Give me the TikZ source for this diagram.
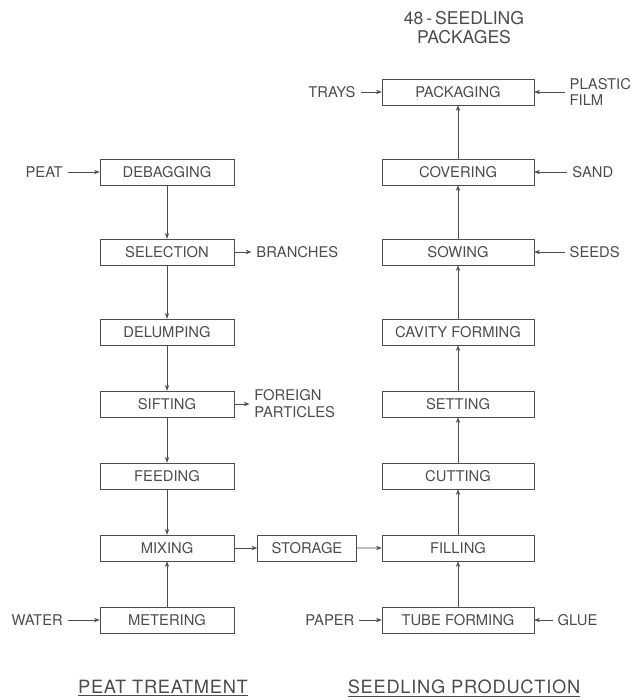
\documentclass[tikz,border=0pt]{standalone}
\usepackage{fontspec}
\setmainfont{TeX Gyre Heros}
\usepackage{tikz}
\usetikzlibrary{arrows.meta, positioning}
\tikzset{
    process/.style={rectangle, minimum width=3.35cm, minimum height=0.65cm, text centered, draw=black!70},
    processwide/.style={process, minimum width=3.8cm},
    processsmall/.style={process, minimum width=2.475cm},
    title/.style={align=center, font=\fontsize{13}{14}\selectfont\addfontfeature{LetterSpace=4}},
    arrow/.style={draw=black!70, -{Stealth[length=4pt,width=3pt]}}
}

\begin{document}
\begin{tikzpicture}[node distance=1.8cm, font=\fontsize{10.5}{12}\selectfont, text=black!70]
    \useasboundingbox (0,0) rectangle (15.825,-17.5);
    % peat treatment
    \node (debag) [process] at (4.175,-4.3) {DEBAGGING};
    \node (select) [process, below of=debag, yshift=-0.2cm] {SELECTION};
    \node (delump) [process, below of=select, yshift=-0.2cm] {DELUMPING};
    \node (sift) [process, below of=delump] {SIFTING};
    \node (feed) [process, below of=sift] {FEEDING};
    \node (mix) [process, below of=feed] {MIXING};
    \node (meter) [process, below of=mix] {METERING};
    \node (store) [processsmall, right of=mix, xshift=1.7cm] {STORAGE};
    % seedling production
    \node (tube) [processwide] at (11.45,-15.5) {TUBE FORMING};
    \node (fill) [processwide, above of=tube] {FILLING};
    \node (cut) [processwide, above of=fill] {CUTTING};
    \node (set) [processwide, above of=cut] {SETTING};
    \node (cavity) [processwide, above of=set] {CAVITY FORMING};
    \node (sow) [processwide, above of=cavity, yshift=0.2cm] {SOWING};
    \node (cover) [processwide, above of=sow, yshift=0.2cm] {COVERING};
    \node (pack) [processwide, above of=cover, yshift=0.2cm] {PACKAGING};

    % inputs and outputs
    \node (peat) [left=0.8cm of debag] {PEAT};
    \node (branch) [right=0.43cm of select] {BRANCHES};
    \node (foreign) [right=0.38cm of sift, align=left] {FOREIGN\\PARTICLES};
    \node (water) [left=0.8cm of meter] {WATER};
    \node (trays) [left=0.53cm of pack] {TRAYS};
    \node (film) [right=0.76cm of pack, align=left] {PLASTIC\\FILM};
    \node (sand) [right=0.83cm of cover] {SAND};
    \node (seeds) [right=0.76cm of sow] {SEEDS};
    \node (paper) [left=0.56cm of tube] {PAPER};
    \node (glue) [right=0.46cm of tube] {GLUE};

    % titles
    \node (packages) [align=center, above=0.75cm of pack, xshift=0.15cm, font=\fontsize{12.5}{13.5}\selectfont] {48\,-\,SEEDLING\\PACKAGES};
    \node (peattitle) [title, below=1.05cm of meter, xshift=-0.1cm] {\underline{PEAT TREATMENT}};
    \node (seedtitle) [title, below=1.05cm of tube, xshift=0.15cm] {\underline{SEEDLING PRODUCTION}};

    \draw [arrow] (debag) -- (select);
    \draw [arrow] (select) -- (delump);
    \draw [arrow] (delump) -- (sift);
    \draw [arrow] (sift) -- (feed);
    \draw [arrow] (feed) -- (mix);
    \draw [arrow] (meter) -- (mix);
    \draw [arrow] (mix) -- (store);
    \draw [arrow] (store) -- (fill);
    \draw [arrow] (tube) -- (fill);
    \draw [arrow] (fill) -- (cut);
    \draw [arrow] (cut) -- (set);
    \draw [arrow] (set) -- (cavity);
    \draw [arrow] (cavity) -- (sow);
    \draw [arrow] (sow) -- (cover);
    \draw [arrow] (cover) -- (pack);

    \draw [arrow] (peat) -- (debag);
    \draw [arrow] (select) -- (branch);
    \draw [arrow] (sift) -- (foreign);
    \draw [arrow] (water) -- (meter);
    \draw [arrow] (trays) -- (pack);
    \draw [arrow] (film) -- (pack);
    \draw [arrow] (sand) -- (cover);
    \draw [arrow] (seeds) -- (sow);
    \draw [arrow] (paper) -- (tube);
    \draw [arrow] (glue) -- (tube);
\end{tikzpicture}
\end{document}
